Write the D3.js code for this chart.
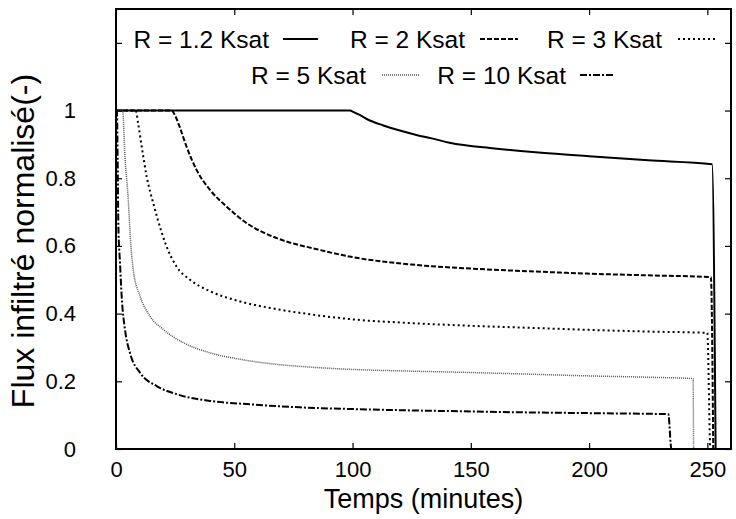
<!DOCTYPE html>
<html><head><meta charset="utf-8">
<script src="https://cdn.jsdelivr.net/npm/d3@7"></script>
<style>body{margin:0;background:#fff;} svg{display:block;} text{font-family:"Liberation Sans",Arial,sans-serif;fill:#000;}</style>
</head><body><svg id="c" width="736" height="519"></svg>
<script>
// ---- data ----
const seriesNames = ["R = 1.2 Ksat","R = 2 Ksat","R = 3 Ksat","R = 5 Ksat","R = 10 Ksat"];
const r12Time = [0,99,100,103,106,113,120,127,134,141,160,180,200,225,252,253.5];
const r12Flux = [1,1,0.997,0.987,0.975,0.956,0.941,0.928,0.917,0.905,0.888,0.875,0.865,0.853,0.841,0];
const r2Time = [0,23.5,25,27,29.9,34.1,39.8,46.8,55.3,68,85,100,125,150,175,200,225,251.5,252.5];
const r2Flux = [1,1,0.985,0.95,0.892,0.824,0.765,0.716,0.667,0.623,0.59,0.567,0.545,0.533,0.525,0.518,0.513,0.508,0];
const r3Time = [0,8.3,9.4,10.9,13,15.8,19.3,21.4,25.6,31.3,39.8,52.5,66.5,80,100,125,150,175,200,225,250,251.3,252.5];
const r3Flux = [1,1,0.96,0.892,0.804,0.725,0.64,0.598,0.539,0.5,0.466,0.436,0.415,0.4,0.383,0.372,0.364,0.358,0.352,0.347,0.343,0,0];
const r5Time = [0,2.8,3.8,5.2,6.2,7.3,10.2,14.4,20,28.5,39.8,52.5,68,80,100,125,150,175,200,225,244,244.2,252];
const r5Flux = [1,1,0.863,0.735,0.61,0.529,0.451,0.392,0.353,0.314,0.284,0.265,0.25,0.243,0.235,0.23,0.226,0.221,0.216,0.212,0.208,0,0];
const r10Time = [0,0.4,0.7,1,1.7,2.4,3.8,5.9,10.2,17.2,25.6,39.8,56.7,77.8,100,125,150,175,200,225,233.5,234.8,252];
const r10Flux = [1,1,0.85,0.66,0.549,0.451,0.353,0.284,0.225,0.186,0.162,0.142,0.132,0.123,0.118,0.114,0.111,0.108,0.106,0.104,0.103,0,0];
const xTicks = [0,50,100,150,200,250];
const yTicks = [0,0.2,0.4,0.6,0.8,1,1.2];
const yTickLabels = ["0","0.2","0.4","0.6","0.8","1",""];

// ---- layout ----
const svg = d3.select("#c");
const L=116, R=731, T=9, B=449;
const x = d3.scaleLinear().domain([0,260]).range([L,R]);
const y = d3.scaleLinear().domain([0,1.3]).range([B,T]);

const styles = [
  {dash:null, w:2, c:"#000"},
  {dash:"5,2", w:2, c:"#000"},
  {dash:"2,3", w:2, c:"#000"},
  {dash:"1,1", w:1.5, c:"#555"},
  {dash:"7,2,2,2", w:2, c:"#000"}
];
const times=[r12Time,r2Time,r3Time,r5Time,r10Time];
const fluxes=[r12Flux,r2Flux,r3Flux,r5Flux,r10Flux];
const line = d3.line().x(d=>x(d[0])).y(d=>y(d[1])).curve(d3.curveMonotoneX);

const g = svg.append("g");
times.forEach((t,i)=>{
  const pts = t.map((v,j)=>[v,fluxes[i][j]]);
  g.append("path").datum(pts).attr("d",line).attr("fill","none")
   .attr("stroke",styles[i].c).attr("stroke-width",styles[i].w)
   .attr("stroke-dasharray",styles[i].dash);
});

// axes (inward ticks, mirrored)
const tl=6;
const axB = d3.axisBottom(x).tickValues(xTicks).tickSize(-tl).tickPadding(12).tickFormat(d3.format("d"));
const axT = d3.axisTop(x).tickValues(xTicks).tickSize(-tl).tickFormat("");
const axL = d3.axisLeft(y).tickValues(yTicks).tickSize(-tl).tickPadding(40).tickFormat((d,i)=>yTickLabels[i]);
const axR = d3.axisRight(y).tickValues(yTicks).tickSize(-tl).tickFormat("");
function style(sel){sel.select(".domain").remove(); sel.selectAll("line").attr("stroke","#000").attr("stroke-width",1.2);
  sel.selectAll("text").attr("font-size",22).attr("font-family","Liberation Sans, Arial, sans-serif");}
svg.append("g").attr("transform",`translate(0,${B})`).call(axB).call(style);
svg.append("g").attr("transform",`translate(0,${T})`).call(axT).call(style);
svg.append("g").attr("transform",`translate(${L},0)`).call(axL).call(style);
svg.append("g").attr("transform",`translate(${R},0)`).call(axR).call(style);
svg.append("rect").attr("x",L).attr("y",T).attr("width",R-L).attr("height",B-T)
  .attr("fill","none").attr("stroke","#000").attr("stroke-width",2);

// titles
svg.append("text").attr("x",(L+R)/2).attr("y",508).attr("text-anchor","middle").attr("font-size",27).text("Temps (minutes)");
svg.append("text").attr("transform","translate(34,241) rotate(-90)").attr("text-anchor","middle").attr("font-size",32).text("Flux infiltré normalisé(-)");

// legend
const legPos = [[269,39,283,318],[465,39,480,518],[662,39,678,716],[366,75,382,420],[566,75,580,614]];
seriesNames.forEach((n,i)=>{
  const p=legPos[i];
  svg.append("text").attr("x",p[0]).attr("y",p[1]).attr("dy","0.35em").attr("text-anchor","end").attr("font-size",24.5).text(n);
  svg.append("line").attr("x1",p[2]).attr("x2",p[3]).attr("y1",p[1]).attr("y2",p[1])
    .attr("stroke",styles[i].c).attr("stroke-width",styles[i].w).attr("stroke-dasharray",styles[i].dash);
});
</script></body></html>
